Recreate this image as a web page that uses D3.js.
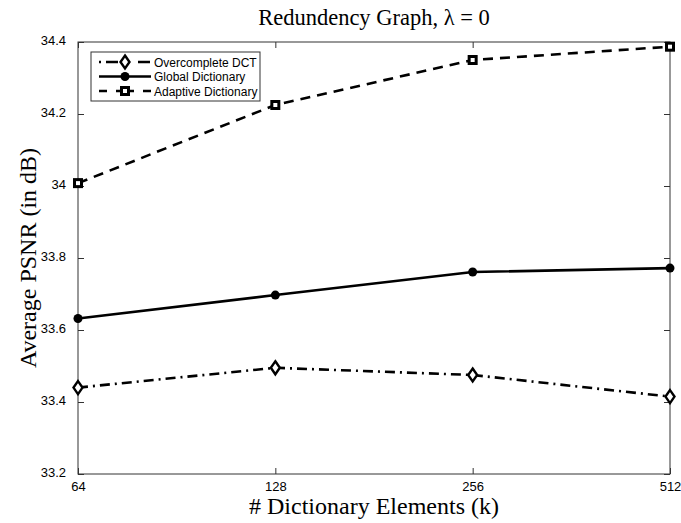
<!DOCTYPE html>
<html>
<head>
<meta charset="utf-8">
<script src="https://cdn.jsdelivr.net/npm/d3@7"></script>
<style>
  body { margin: 0; background: #fff; }
  svg { display: block; }
  .tick text { font-family: "Liberation Sans", Arial, sans-serif; font-size: 13px; fill: #000; }
</style>
</head>
<body>
<svg id="chart" width="681" height="523"></svg>
<script>
// dictionary sizes (x) and PSNR values
var sizes = [64, 128, 256, 512];
var overcompleteDCT = [33.44, 33.495, 33.475, 33.415];
var globalDict = [33.632, 33.697, 33.761, 33.772];
var adaptiveDict = [34.008, 34.225, 34.35, 34.387];
var yTicks = [33.2, 33.4, 33.6, 33.8, 34, 34.2, 34.4];
var seriesNames = ['Overcomplete DCT', 'Global Dictionary', 'Adaptive Dictionary'];

var svg = d3.select('#chart'),
    plotL = 78, plotR = 670, plotT = 42, plotB = 474;

var x = d3.scaleLog().base(2).domain([64, 512]).range([plotL, plotR]);
var y = d3.scaleLinear().domain([33.2, 34.4]).range([plotB, plotT]);

// frame
svg.append('rect')
    .attr('x', plotL).attr('y', plotT)
    .attr('width', plotR - plotL).attr('height', plotB - plotT)
    .attr('fill', 'none').attr('stroke', '#333').attr('stroke-width', 1);

// axes, ticks pointing in
var xAxis = svg.append('g').attr('transform', 'translate(0,' + plotB + ')')
    .call(d3.axisBottom(x).tickValues(sizes).tickFormat(d3.format('d')).tickSizeInner(-6).tickSizeOuter(0).tickPadding(10));
var yAxis = svg.append('g').attr('transform', 'translate(' + plotL + ',0)')
    .call(d3.axisLeft(y).tickValues(yTicks).tickFormat(function (d) { return String(+d.toFixed(1)); }).tickSizeInner(-6).tickSizeOuter(0).tickPadding(12));
svg.append('g').attr('transform', 'translate(0,' + plotT + ')')
    .call(d3.axisTop(x).tickValues(sizes).tickSizeInner(-6).tickSizeOuter(0).tickFormat(''));
svg.append('g').attr('transform', 'translate(' + plotR + ',0)')
    .call(d3.axisRight(y).tickValues(yTicks).tickSizeInner(-6).tickSizeOuter(0).tickFormat(''));
svg.selectAll('.domain').remove();
svg.selectAll('.tick line').attr('stroke', '#333');
xAxis.selectAll('.tick text').attr('dy', '0.55em');
yAxis.selectAll('.tick text').attr('dy', '0.2em');

// series
var series = [
    {name: seriesNames[0], values: overcompleteDCT, dash: '10,5,2,5', marker: 'diamond'},
    {name: seriesNames[1], values: globalDict, dash: null, marker: 'circle'},
    {name: seriesNames[2], values: adaptiveDict, dash: '10,7', marker: 'square'}
];

var line = d3.line()
    .x(function (d) { return x(d.x); })
    .y(function (d) { return y(d.y); });

function drawMarker(g, type, cx, cy) {
    if (type === 'diamond') {
        g.append('path')
            .attr('d', 'M' + cx + ',' + (cy - 6.5) + 'L' + (cx + 4.5) + ',' + cy + 'L' + cx + ',' + (cy + 6.5) + 'L' + (cx - 4.5) + ',' + cy + 'Z')
            .attr('fill', '#fff').attr('stroke', '#000').attr('stroke-width', 2.4);
    } else if (type === 'circle') {
        g.append('circle').attr('cx', cx).attr('cy', cy).attr('r', 4.5).attr('fill', '#000');
    } else {
        g.append('rect').attr('x', cx - 3.5).attr('y', cy - 3.5).attr('width', 7).attr('height', 7)
            .attr('fill', '#fff').attr('stroke', '#000').attr('stroke-width', 3);
    }
}

series.forEach(function (s) {
    var pts = sizes.map(function (k, i) { return {x: k, y: s.values[i]}; });
    var g = svg.append('g');
    g.append('path')
        .datum(pts)
        .attr('d', line)
        .attr('fill', 'none')
        .attr('stroke', '#000')
        .attr('stroke-width', 2.6)
        .attr('stroke-dasharray', s.dash);
    pts.forEach(function (p) {
        drawMarker(g, s.marker, x(p.x), y(p.y));
    });
});

// legend
var legend = svg.append('g');
legend.append('rect')
    .attr('x', 91).attr('y', 52).attr('width', 169).attr('height', 49)
    .attr('fill', '#fff').attr('stroke', '#333').attr('stroke-width', 1);
series.forEach(function (s, i) {
    var ly = 62 + i * 14.5;
    legend.append('line')
        .attr('x1', 99).attr('x2', 151).attr('y1', ly).attr('y2', ly)
        .attr('stroke', '#000').attr('stroke-width', 2.4)
        .attr('stroke-dasharray', s.marker === 'diamond' ? '2,5,12,20,12,5' : s.dash ? '8,9,18,9,8' : null);
    drawMarker(legend, s.marker, 125, ly);
    legend.append('text')
        .attr('x', 154).attr('y', ly + 4.5)
        .attr('font-family', '"Liberation Sans", Arial, sans-serif')
        .attr('font-size', 12)
        .text(s.name);
});

// titles
svg.append('text')
    .attr('x', (plotL + plotR) / 2).attr('y', 25)
    .attr('text-anchor', 'middle')
    .attr('font-family', '"Liberation Serif", "Times New Roman", serif')
    .attr('font-size', 22.5)
    .text('Redundency Graph, \u03bb = 0');
svg.append('text')
    .attr('x', (plotL + plotR) / 2).attr('y', 514)
    .attr('text-anchor', 'middle')
    .attr('font-family', '"Liberation Serif", "Times New Roman", serif')
    .attr('font-size', 24)
    .text('# Dictionary Elements (k)');
svg.append('text')
    .attr('transform', 'translate(36,' + (plotT + plotB) / 2 + ') rotate(-90)')
    .attr('text-anchor', 'middle')
    .attr('font-family', '"Liberation Serif", "Times New Roman", serif')
    .attr('font-size', 24)
    .text('Average PSNR (in dB)');
</script>
</body>
</html>
